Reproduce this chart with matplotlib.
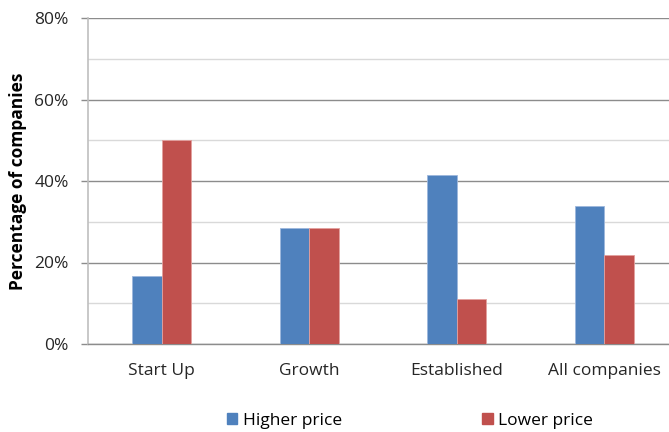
import matplotlib.pyplot as plt
from matplotlib.ticker import MultipleLocator, PercentFormatter
from matplotlib.patches import Patch
import numpy as np

plt.rc('font', family='Open Sans', size=12.5)

# Share of companies by stage
categories = ["Start Up", "Growth", "Established", "All companies"]
higher_price = [16.7, 28.4, 41.4, 33.8]
lower_price = [50.0, 28.4, 11.1, 21.8]

blue = "#4F81BD"
red = "#C0504D"

fig = plt.figure(figsize=(6.69, 4.32), dpi=100)
ax = fig.add_axes([88 / 669, 88 / 432, 1 - 88 / 669, 326 / 432])

x = np.arange(len(categories))
w = 0.2
ax.bar(x - w / 2, higher_price, width=w, color=blue, edgecolor="#9DB7DC", linewidth=0.6, zorder=3)
ax.bar(x + w / 2, lower_price, width=w, color=red, edgecolor="#E3A09E", linewidth=0.6, zorder=3)

ax.set_xlim(-0.5, 3.44)
ax.set_ylim(0, 80)
ax.yaxis.set_major_locator(MultipleLocator(20))
ax.yaxis.set_minor_locator(MultipleLocator(10))
ax.yaxis.set_major_formatter(PercentFormatter(decimals=0))
ax.grid(axis="y", which="major", color="#8C8C8C", linewidth=1.0, zorder=0)
ax.grid(axis="y", which="minor", color="#D9D9D9", linewidth=1.0, zorder=0)

ax.set_xticks(x)
ax.set_xticklabels(categories)
ax.tick_params(axis="x", length=0, pad=14, colors="#262626", labelsize=12.5)
ax.tick_params(axis="y", which="major", length=5, width=1, color="#8C8C8C",
               colors="#262626", labelsize=12.5, pad=9)
ax.tick_params(axis="y", which="minor", length=0)
for lbl in ax.get_yticklabels():
    lbl.set_color("#262626")

for side in ["top", "right"]:
    ax.spines[side].set_visible(False)
ax.spines["left"].set_color("#BFBFBF")
ax.spines["bottom"].set_color("#8C8C8C")
ax.spines["left"].set_linewidth(1.2)
ax.spines["bottom"].set_linewidth(1.0)

ax.set_ylabel("Percentage of companies", fontweight="bold", fontsize=12.5, labelpad=5)

handles = [Patch(color=blue), Patch(color=red)]
fig.legend(handles, ["Higher price", "Lower price"], loc="center",
           bbox_to_anchor=(410 / 669, 1 - 421 / 432), ncol=2, frameon=False,
           handlelength=0.6, handleheight=0.6, handletextpad=0.3,
           columnspacing=8.1, fontsize=12.5)

fig.savefig("out.png", dpi=100)
